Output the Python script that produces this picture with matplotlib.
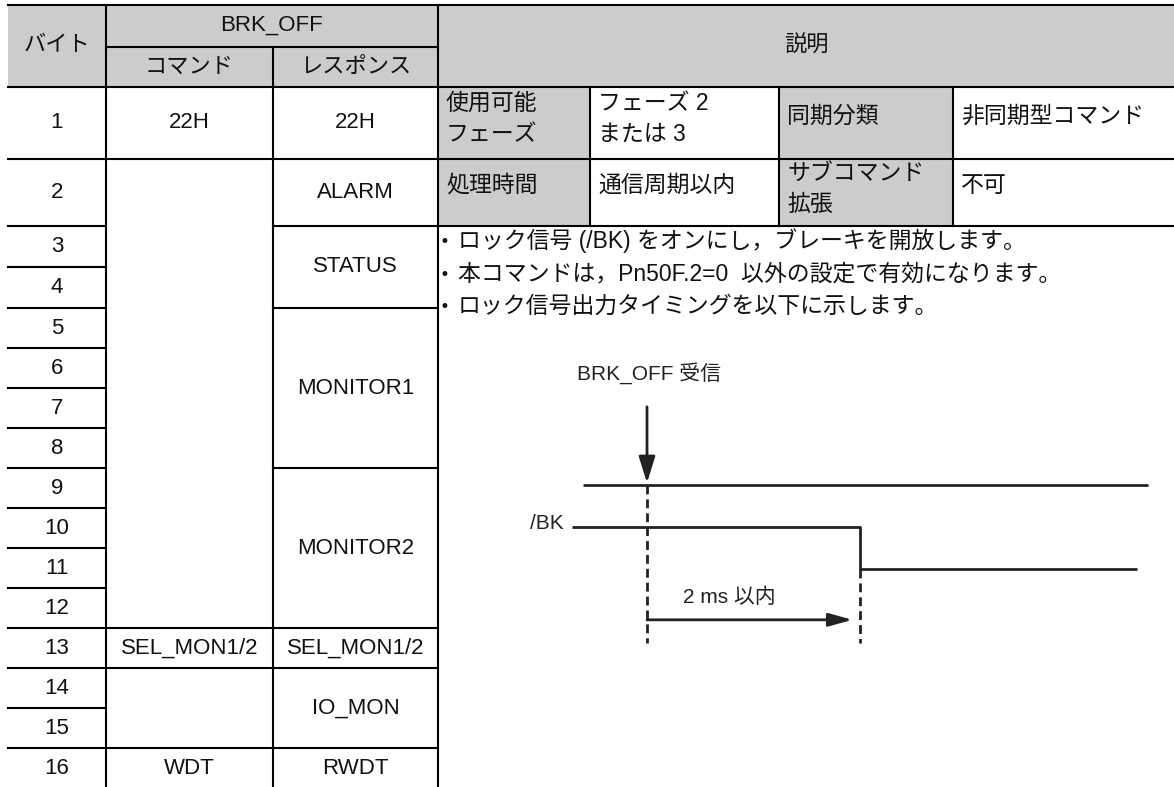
import numpy as np
import matplotlib.pyplot as plt
from matplotlib.patches import Rectangle

# ---- table content ----
byte_nos = list(range(1, 17))
header_top = ["バイト", "BRK_OFF", "説明"]
header_sub = ["コマンド", "レスポンス"]
# (text, first byte, last byte)
command_cells = [("22H", 1, 1), ("", 2, 12), ("SEL_MON1/2", 13, 13), ("", 14, 15), ("WDT", 16, 16)]
response_cells = [("22H", 1, 1), ("ALARM", 2, 2), ("STATUS", 3, 4), ("MONITOR1", 5, 8),
                  ("MONITOR2", 9, 12), ("SEL_MON1/2", 13, 13), ("IO_MON", 14, 15), ("RWDT", 16, 16)]
info_row1 = ["使用可能\nフェーズ", "フェーズ 2\nまたは 3", "同期分類", "非同期型コマンド"]
info_row2 = ["処理時間", "通信周期以内", "サブコマンド\n拡張", "不可"]
notes = ["ロック信号 (/BK) をオンにし，ブレーキを開放します。",
         "本コマンドは，Pn50F.2=0  以外の設定で有効になります。",
         "ロック信号出力タイミングを以下に示します。"]

# ---- timing chart (time in ms, signal level) ----
t_received = 0.0
t_bk_off = 2.0
cmd_t = [-0.6, 4.7]
cmd_level = [3, 3]
bk_t = [-0.7, t_bk_off, t_bk_off, 4.6]
bk_level = [2, 2, 1, 1]
label_received = "BRK_OFF 受信"
label_bk = "/BK"
label_delay = "2 ms 以内"

# ---- layout (pixels) ----
W, H = 1174, 787
GRAY = "#cccccc"
INK = "#111111"
LW = 1.5
FONT = ["Liberation Sans", "Noto Sans CJK JP"]
col_x = [8, 106, 273, 438]
info_x = [438, 590, 779, 953, W]
head_y = [5, 47, 87]
row_h = [72, 67, 41, 41] + [40] * 12
row_y = np.concatenate([[head_y[2]], head_y[2] + np.cumsum(row_h)])

fig = plt.figure(figsize=(W / 100, H / 100), dpi=100)
ax = fig.add_axes([0, 0, 1, 1])
ax.set_xlim(0, W)
ax.set_ylim(H, 0)
ax.axis("off")

# fills
ax.add_patch(Rectangle((col_x[0], head_y[0]), W - col_x[0], head_y[2] - head_y[0], color=GRAY, lw=0))
for r in range(2):
    for c in (0, 2):
        ax.add_patch(Rectangle((info_x[c], row_y[r]), info_x[c + 1] - info_x[c],
                               row_y[r + 1] - row_y[r], color=GRAY, lw=0))


def hline(y, x0, x1):
    ax.plot([x0, x1], [y, y], color="black", lw=LW, solid_capstyle="projecting")


def vline(x, y0, y1):
    ax.plot([x, x], [y0, y1], color="black", lw=LW, solid_capstyle="projecting")


hline(head_y[0], col_x[0], W)
hline(head_y[1], col_x[1], col_x[3])
hline(head_y[2], col_x[0], W)
vline(col_x[1], head_y[0], H)
vline(col_x[2], head_y[1], H)
vline(col_x[3], head_y[0], H)

txt = dict(family=FONT, color=INK, ha="center", va="center")

# header text
ax.text((col_x[0] + col_x[1]) / 2, (head_y[0] + head_y[2]) / 2, header_top[0], fontsize=16, **txt)
ax.text((col_x[1] + col_x[3]) / 2, (head_y[0] + head_y[1]) / 2 - 1, header_top[1], fontsize=16, **txt)
ax.text((info_x[0] + W) / 2, (head_y[0] + head_y[2]) / 2, header_top[2], fontsize=16, **txt)
for i, s in enumerate(header_sub):
    ax.text((col_x[i + 1] + col_x[i + 2]) / 2, (head_y[1] + head_y[2]) / 2, s, fontsize=16, **txt)

# byte column
for b in byte_nos:
    y0, y1 = row_y[b - 1], row_y[b]
    if b > 1:
        hline(y0, col_x[0], col_x[1])
    ax.text((col_x[0] + col_x[1]) / 2, (y0 + y1) / 2, str(b), fontsize=16, **txt)

# command / response columns
for ci, cells in enumerate([command_cells, response_cells]):
    x0, x1 = col_x[ci + 1], col_x[ci + 2]
    for s, first, last in cells:
        y0, y1 = row_y[first - 1], row_y[last]
        if first > 1:
            hline(y0, x0, x1)
        if s:
            ax.text((x0 + x1) / 2, (y0 + y1) / 2, s, fontsize=16, **txt)

# info cells
hline(row_y[1], info_x[0], W)
hline(row_y[2], info_x[0], W)
for x in info_x[1:4]:
    vline(x, row_y[0], row_y[2])
for r, row in enumerate([info_row1, info_row2]):
    cy = (row_y[r] + row_y[r + 1]) / 2
    for c, s in enumerate(row):
        lines = s.split("\n")
        n = len(lines)
        for k, ln in enumerate(lines):
            y = cy - 4 + (k - (n - 1) / 2) * 31
            if n == 1:
                y = cy - 7
            ax.text(info_x[c] + 8, y, ln, fontsize=16.5, family=FONT, color=INK,
                    ha="left", va="center")

# notes
for i, s in enumerate(notes):
    y = 241 + i * 32.5
    ax.text(info_x[0] + 2, y + 1, "•", fontsize=12, family="DejaVu Sans", color=INK,
            ha="left", va="center")
    ax.text(info_x[0] + 20, y, s, fontsize=16.5, family=FONT, color=INK, ha="left", va="center")

# ---- timing chart ----
px_per_ms, px_per_lv = 106.5, 42.0
t0_px, lv2_px = 647, 527
xl, yl = (-1.0, 4.9), (-1.0, 6.0)
left = t0_px + xl[0] * px_per_ms
right = t0_px + xl[1] * px_per_ms
top = lv2_px - (yl[1] - 2) * px_per_lv
bot = lv2_px - (yl[0] - 2) * px_per_lv
ax2 = fig.add_axes([left / W, 1 - bot / H, (right - left) / W, (bot - top) / H])
ax2.set_xlim(*xl)
ax2.set_ylim(*yl)
ax2.axis("off")
ax2.patch.set_alpha(0)

SIG = "#222222"
ax2.plot(cmd_t, cmd_level, color=SIG, lw=2.0, solid_capstyle="butt")
ax2.plot(bk_t, bk_level, color=SIG, lw=2.0, solid_capstyle="butt")
dash = (0, (3.2, 1.8))
ax2.plot([t_received, t_received], [cmd_level[0], -0.76], color=SIG, lw=2.0, linestyle=dash)
ax2.plot([t_bk_off, t_bk_off], [bk_level[-1], -0.76], color=SIG, lw=2.0, linestyle=dash)
ax2.annotate("", xy=(t_received, cmd_level[0] + 0.05), xytext=(t_received, 4.86),
             arrowprops=dict(arrowstyle="-|>,head_length=0.8,head_width=0.25", color=SIG,
                             lw=2.0, mutation_scale=20, shrinkA=0, shrinkB=0))
ax2.annotate("", xy=(t_bk_off - 0.07, -0.21), xytext=(t_received, -0.21),
             arrowprops=dict(arrowstyle="-|>,head_length=0.8,head_width=0.22", color=SIG,
                             lw=2.0, mutation_scale=18, shrinkA=0, shrinkB=0))
ax2.text(-0.66, 5.67, label_received, fontsize=15, family=FONT, color=SIG, ha="left", va="center")
ax2.text(-0.78, 2.08, label_bk, fontsize=15, family=FONT, color=SIG, ha="right", va="center")
ax2.text(0.34, 0.33, label_delay, fontsize=15, family=FONT, color=SIG, ha="left", va="center")

fig.savefig("out.png", dpi=100)
